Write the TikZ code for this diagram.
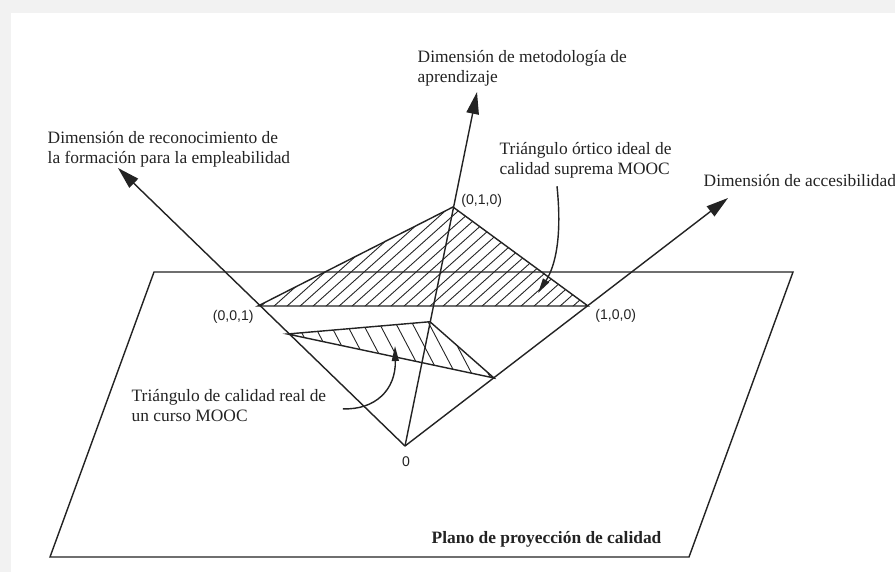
\documentclass[tikz,border=0pt]{standalone}
\usepackage{fontspec}
\setmainfont{Liberation Serif}
\newfontfamily\etiquetafont{Liberation Sans}
\usetikzlibrary{calc}
\usetikzlibrary{arrows.meta}
\definecolor{fondo}{RGB}{242,242,242}
\definecolor{trazo}{RGB}{35,35,35}

\begin{document}
\begin{tikzpicture}[x=0.02cm, y=-0.02cm,
	Flecha/.style={arrows = -{Triangle[length=4.4mm, width=2.5mm]}},
	Llamada/.style={arrows = -{Triangle[length=3mm, width=1.4mm]}},
	rayado/.style={line width=0.5pt},
	texto/.style={font=\fontsize{9.9}{11.4}\selectfont, align=left, inner sep=0pt, anchor=north west},
	punto/.style={font=\etiquetafont\fontsize{8}{9}\selectfont, inner sep=1pt},
	color=trazo, line width=0.8pt]
				\useasboundingbox (0,0) rectangle (895,572);
				\fill[fondo] (0,0) rectangle (895,572);
				\fill[white] (11,13) rectangle (895,572);
				% plano
				\draw (154,272) -- (793,272) -- (689,557) -- (50,557) -- cycle;
				\coordinate (o) at (405,446);
				\coordinate (p001) at (258,306);
				\coordinate (p010) at (453,207);
				\coordinate (p100) at (588,306);
				\coordinate (ejeF) at (118,168);
				\coordinate (ejeM) at (477,92);
				\coordinate (ejeA) at (728,198);
				\coordinate (r1) at ($(o)!0.8!(p001)$);
				\coordinate (r2) at ($(o)!0.52!(p010)$);
				\coordinate (r3) at ($(o)!0.486!(p100)$);
				% triangulo ideal
				\begin{scope}
					\clip (p001) -- (p010) -- (p100) -- cycle;
					\foreach \k in {0,...,36}
						\draw[rayado] ($(p001)+(\k*13-125,10)$) -- ++(135,-121);
				\end{scope}
				\draw (p001) -- (p010) -- (p100) -- cycle;
				% triangulo real
				\begin{scope}
					\clip (r1) -- (r2) -- (r3) -- cycle;
					\foreach \k in {0,...,16}
						\draw[rayado] ($(r1)+(\k*16.5-45,-20)$) -- ++(50,95);
				\end{scope}
				\draw (r1) -- (r2) -- (r3) -- cycle;
				% ejes
				\draw[Flecha] (o) -- (ejeF);
				\draw[Flecha] (o) -- (ejeM);
				\draw[Flecha] (o) -- (ejeA);
				\node[punto, anchor=west] (l010) at (459,201) {(0,1,0)};
				\node[punto, anchor=east] (l001) at (256,317) {(0,0,1)};
				\node[punto, anchor=west] (l100) at (593,316) {(1,0,0)};
				\node[punto] (l0) at (406,462) {0};
				\node[texto] (metodologia) at (417,50) {Dimensión de metodología de\\aprendizaje};
				\node[texto] (reconocimiento) at (47,131) {Dimensión de reconocimiento de\\la formación para la empleabilidad};
				\node[texto] (ortico) at (499,142) {Triángulo órtico ideal de\\calidad suprema MOOC};
				\node[texto] (accesibilidad) at (703,174) {Dimensión de accesibilidad};
				\node[texto] (real) at (131,389) {Triángulo de calidad real de\\un curso MOOC};
				\node[texto, font=\fontsize{9.9}{11.4}\selectfont\bfseries] (plano) at (431,531) {Plano de proyección de calidad};
				\draw[Llamada] ($(ortico.south west)+(58,7)$) .. controls (562,235) and (556,265) .. (538,293);
				\draw[Llamada] ($(real.east)+(16,3)$) .. controls (375,410) and (396,390) .. (395,346);
			\end{tikzpicture}
\end{document}
